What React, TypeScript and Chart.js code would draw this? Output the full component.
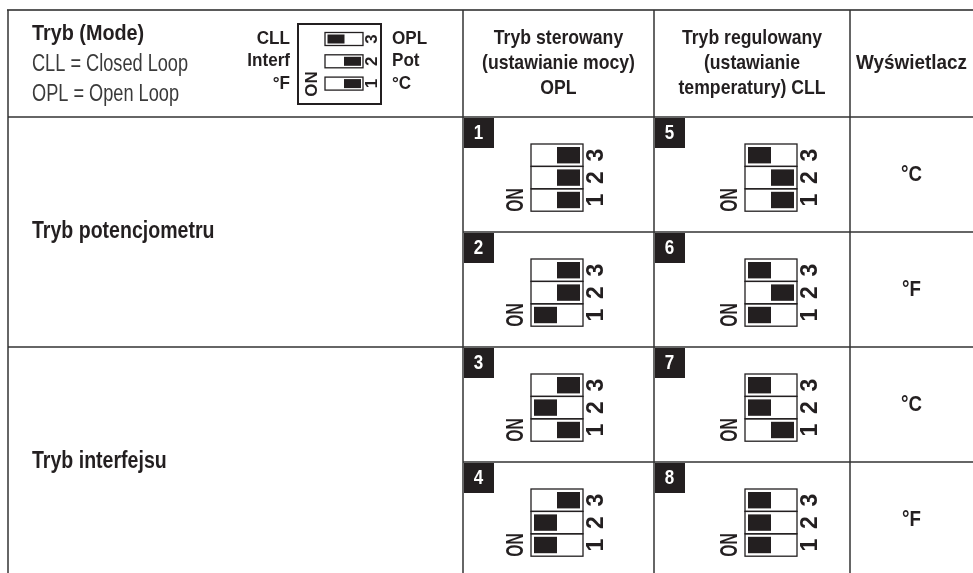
import { useEffect, useRef } from 'react';
import { Chart, registerables } from 'chart.js';

Chart.register(...registerables);

const W = 973;
const H = 573;

// ---- data ----
const headerModeTitle = 'Tryb (Mode)';
const headerModeLines = ['CLL = Closed Loop', 'OPL = Open Loop'];
const legendLeftLabels = ['CLL', 'Interf', '°F']; // switches 3, 2, 1 (top to bottom)
const legendRightLabels = ['OPL', 'Pot', '°C'];
const legendSwitchOn = [1, 0, 0]; // switches 3, 2, 1 : 1 = knob on ON side (left)
const columnHeaders = [
  ['Tryb sterowany', '(ustawianie mocy)', 'OPL'],
  ['Tryb regulowany', '(ustawianie', 'temperatury) CLL'],
  ['Wyświetlacz'],
];
const rowLabels = ['Tryb potencjometru', 'Tryb interfejsu'];
const configNumbers = ['1', '2', '3', '4', '5', '6', '7', '8'];
const switch1On = [0, 1, 0, 1, 0, 1, 0, 1];
const switch2On = [0, 0, 1, 1, 0, 0, 1, 1];
const switch3On = [0, 0, 0, 0, 1, 1, 1, 1];
const displayUnits = ['°C', '°F', '°C', '°F'];
const switchNumbers = ['3', '2', '1'];

// ---- layout (positions in chart units) ----
const TABLE_LEFT = 8;
const TABLE_TOP = 10;
const HEADER_BOTTOM = 117;
const SUB_ROW = 115;
const COLS = [463, 654, 850];
const BOX_OFFSET = [68, 91];
const FONT = '"Liberation Sans", Arial, "DejaVu Sans", sans-serif';
const INK = '#231f20';

function txt(
  ctx: CanvasRenderingContext2D,
  s: string,
  x: number,
  y: number,
  font: string,
  align: CanvasTextAlign,
  sx = 1,
  rot = 0,
  color = INK
) {
  ctx.save();
  ctx.translate(x, y);
  if (rot) ctx.rotate(rot);
  ctx.scale(sx, 1);
  ctx.font = font;
  ctx.textAlign = align;
  ctx.textBaseline = 'middle';
  ctx.fillStyle = color;
  ctx.fillText(s, 0, 0);
  ctx.restore();
}

const tablePlugin = {
  id: 'dipTable',
  beforeDraw(chart: any) {
    const ctx: CanvasRenderingContext2D = chart.ctx;
    const xs = chart.scales.x;
    const ys = chart.scales.y;
    const px = (v: number) => xs.getPixelForValue(v);
    const py = (v: number) => ys.getPixelForValue(v);

    ctx.save();
    ctx.fillStyle = '#ffffff';
    ctx.fillRect(0, 0, chart.width, chart.height);

    const line = (x1: number, y1: number, x2: number, y2: number, w = 1.5, c = '#333333') => {
      ctx.beginPath();
      ctx.strokeStyle = c;
      ctx.lineWidth = w;
      ctx.moveTo(px(x1), py(y1));
      ctx.lineTo(px(x2), py(y2));
      ctx.stroke();
    };

    // grid lines
    line(TABLE_LEFT - 1, TABLE_TOP, W, TABLE_TOP, 2, '#5a5a5a');
    line(TABLE_LEFT, TABLE_TOP, TABLE_LEFT, H);
    line(TABLE_LEFT, HEADER_BOTTOM, W, HEADER_BOTTOM);
    line(TABLE_LEFT, HEADER_BOTTOM + 2 * SUB_ROW, W, HEADER_BOTTOM + 2 * SUB_ROW);
    line(COLS[0], HEADER_BOTTOM + SUB_ROW, W, HEADER_BOTTOM + SUB_ROW);
    line(COLS[0], HEADER_BOTTOM + 3 * SUB_ROW, W, HEADER_BOTTOM + 3 * SUB_ROW);
    COLS.forEach((c) => line(c, TABLE_TOP, c, H));

    // header: mode legend text
    txt(ctx, headerModeTitle, px(32), py(34), `bold 22px ${FONT}`, 'left', 0.9);
    headerModeLines.forEach((s, i) =>
      txt(ctx, s, px(32), py(65 + i * 30), `normal 23px ${FONT}`, 'left', 0.79, 0, '#3a3a3a')
    );

    // header: small DIP legend
    ctx.strokeStyle = INK;
    ctx.lineWidth = 2;
    ctx.strokeRect(px(298), py(24), px(381) - px(298), py(104) - py(24));
    for (let k = 0; k < 3; k++) {
      const cy = 39 + k * 22.3;
      ctx.lineWidth = 1.3;
      ctx.strokeRect(px(325), py(cy - 6.5), px(363) - px(325), py(cy + 6.5) - py(cy - 6.5));
      const kx = legendSwitchOn[k] ? 327.5 : 344;
      ctx.fillStyle = INK;
      ctx.fillRect(px(kx), py(cy - 4.5), px(kx + 17) - px(kx), py(cy + 4.5) - py(cy - 4.5));
      txt(ctx, switchNumbers[k], px(372.5), py(cy), `bold 17px ${FONT}`, 'center', 1, -Math.PI / 2);
      txt(ctx, legendLeftLabels[k], px(290), py(cy), `bold 18px ${FONT}`, 'right', 0.95);
      txt(ctx, legendRightLabels[k], px(392), py(cy), `bold 18px ${FONT}`, 'left', 0.95);
    }
    txt(ctx, 'ON', px(312), py(84), `bold 17px ${FONT}`, 'center', 1, -Math.PI / 2);

    // column headers
    const colCenters = [(COLS[0] + COLS[1]) / 2, (COLS[1] + COLS[2]) / 2, (COLS[2] + W) / 2];
    const colSx = [0.84, 0.84, 0.9];
    columnHeaders.forEach((lines, c) => {
      const n = lines.length;
      lines.forEach((s, i) => {
        const y = 63.5 + (i - (n - 1) / 2) * 25;
        txt(ctx, s, px(colCenters[c]), py(y), `bold 21px ${FONT}`, 'center', colSx[c]);
      });
    });

    // row labels
    rowLabels.forEach((s, r) =>
      txt(ctx, s, px(32), py(HEADER_BOTTOM + SUB_ROW * (2 * r + 1)), `bold 23px ${FONT}`, 'left', 0.85)
    );

    // display units
    displayUnits.forEach((s, i) =>
      txt(ctx, s, px(colCenters[2]), py(HEADER_BOTTOM + SUB_ROW * (i + 0.5)), `bold 22px ${FONT}`, 'center', 0.85)
    );

    // DIP switch cells
    const switchRows = [switch3On, switch2On, switch1On];
    configNumbers.forEach((num, i) => {
      const col = Math.floor(i / 4);
      const sub = i % 4;
      const cx0 = COLS[col];
      const cy0 = HEADER_BOTTOM + sub * SUB_ROW;

      // badge
      ctx.fillStyle = INK;
      ctx.fillRect(px(cx0 + 1), py(cy0 + 1), px(cx0 + 31) - px(cx0 + 1), py(cy0 + 31) - py(cy0 + 1));
      txt(ctx, num, px(cx0 + 15.5), py(cy0 + 16), `bold 20px ${FONT}`, 'center', 0.85, 0, '#ffffff');

      const x0 = cx0 + BOX_OFFSET[col];
      const y0 = cy0 + 27;
      const h = 22.4;
      for (let k = 0; k < 3; k++) {
        const sy = y0 + k * h;
        ctx.strokeStyle = INK;
        ctx.lineWidth = 1.3;
        ctx.strokeRect(px(x0), py(sy), px(x0 + 52) - px(x0), py(sy + h) - py(sy));
        const on = switchRows[k][i];
        const kx = on ? x0 + 3 : x0 + 26;
        ctx.fillStyle = INK;
        ctx.fillRect(px(kx), py(sy + 3), px(kx + 23) - px(kx), py(sy + h - 3) - py(sy + 3));
        txt(ctx, switchNumbers[k], px(x0 + 66), py(sy + h / 2), `bold 23px ${FONT}`, 'center', 1, -Math.PI / 2);
      }
      txt(ctx, 'ON', px(x0 - 14), py(y0 + 2.5 * h), `bold 23px ${FONT}`, 'center', 0.68, -Math.PI / 2);
    });

    ctx.restore();
  },
};

export default function App() {
  const ref = useRef<HTMLCanvasElement | null>(null);
  useEffect(() => {
    if (!ref.current) return;
    const chart = new Chart(ref.current, {
      type: 'scatter',
      data: { datasets: [{ data: [], pointRadius: 0 }] },
      options: {
        animation: false,
        responsive: false,
        events: [],
        layout: { padding: 0 },
        plugins: { legend: { display: false }, tooltip: { enabled: false } },
        scales: {
          x: { type: 'linear', min: 0, max: W, display: false },
          y: { type: 'linear', min: 0, max: H, reverse: true, display: false },
        },
      },
      plugins: [tablePlugin],
    });
    return () => chart.destroy();
  }, []);
  return (
    <div style={{ position: 'absolute', left: 0, top: 0, width: W, height: H, background: '#fff' }}>
      <canvas ref={ref} width={W} height={H} style={{ display: 'block' }} />
    </div>
  );
}
